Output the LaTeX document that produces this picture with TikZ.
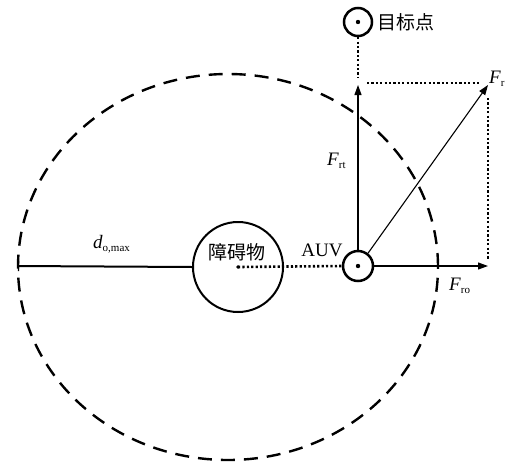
\documentclass[tikz,border=0pt]{standalone}
\usepackage{fontspec}
\setmainfont{Liberation Serif}
\newfontfamily\cjk{Noto Sans CJK SC}
\usetikzlibrary{arrows.meta}
\newcommand{\sbs}[1]{\raisebox{-0.45ex}{\fontsize{11pt}{12pt}\selectfont #1}}
\begin{document}
\begin{tikzpicture}[x=1pt,y=-1pt,
  bigdash/.style={line width=2.4pt,dash pattern=on 14pt off 9pt},
  dotline/.style={line width=2.6pt,dash pattern=on 2.2pt off 2.2pt},
  force/.style={line width=1.1pt,-{Triangle[length=10pt,width=7pt]}},
  ring/.style={circle,draw,line width=2.5pt,inner sep=0pt},
  lbl/.style={inner sep=0pt,font=\fontsize{19pt}{22pt}\selectfont},
  cjklbl/.style={inner sep=0pt,font=\fontsize{19pt}{22pt}\selectfont\cjk}]
\useasboundingbox (0,0) rectangle (508,466);
% big dashed range ellipse
\draw[bigdash] (228,267) ellipse [x radius=210pt, y radius=193pt];
% nodes
\node[ring,minimum size=90pt,line width=2pt] (obs) at (238,267) {};
\node[ring,minimum size=30pt] (auv) at (358,266) {};
\node[ring,minimum size=28pt] (tgt) at (358,22) {};
\fill (obs.center) circle (1.8pt);
\fill (auv.center) circle (2.2pt);
\fill (tgt.center) circle (2.2pt);
% coordinates
\coordinate (ft) at (358,85);
\coordinate (fr) at (488,85);
\coordinate (fo) at (488,266);
\coordinate (ledge) at (18,266);
\coordinate (tgtend) at (358,78);
\coordinate (hd1) at (367,83);
\coordinate (hd2) at (479,83);
\coordinate (vd1) at (488,98);
\coordinate (vd2) at (488,260);
% radius line
\draw[line width=2pt,{Bar[width=10pt,line width=1.2pt]}-] (ledge) -- (obs.west);
% dotted lines
\draw[dotline] (obs.center) -- (auv.west);
\draw[dotline] (tgt.south) -- (tgtend);
\draw[dotline] (hd1) -- (hd2);
\draw[dotline] (vd1) -- (vd2);
% forces
\draw[force] (auv.north) -- (ft);
\draw[force] (auv.east) -- (fo);
\draw[force] (auv.52) -- (fr);
% labels
\node[cjklbl,anchor=west] (tgtl) at (377,22) {目标点};
\node[cjklbl] (obsl) at (237,252) {障碍物};
\node[lbl] (auvl) at (322,250) {AUV};
\node[lbl,anchor=base west] (frt) at (327,165) {\textit{F}\sbs{rt}};
\node[lbl,anchor=base west] (frl) at (489,83) {\textit{F}\sbs{r}};
\node[lbl,anchor=base west] (frol) at (449,290) {\textit{F}\sbs{ro}};
\node[lbl,anchor=base west] (dl) at (93,248) {\textit{d}\sbs{o,max}};
\end{tikzpicture}
\end{document}
